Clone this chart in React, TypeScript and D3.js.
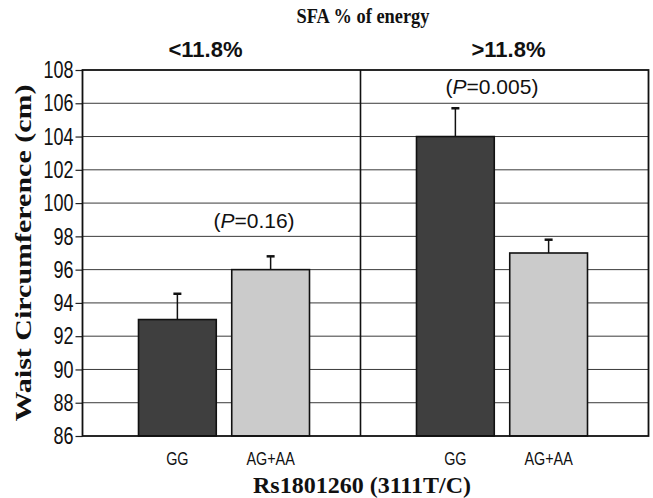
import React, { useEffect, useRef } from "react";
import * as d3 from "d3";

// data
const groups = ["<11.8%", ">11.8%"];
const genotypes = ["GG", "AG+AA"];
const means = [
  [93, 96],
  [104, 97],
];
const upperErr = [
  [94.55, 96.8],
  [105.7, 97.8],
];
const pLabels = ["0.16", "0.005"];
const pValueY = [98.5, 106.55];
const yTicks = [86, 88, 90, 92, 94, 96, 98, 100, 102, 104, 106, 108];

const App = () => {
  const svgRef = useRef<SVGSVGElement>(null);

  useEffect(() => {
    const width = 653;
    const height = 498;
    const margin = { top: 70, right: 4.5, bottom: 62, left: 82.5 };
    const panelW = 278;

    const svg = d3.select(svgRef.current).attr("width", width).attr("height", height);
    svg.selectAll("*").remove();

    const y = d3
      .scaleLinear()
      .domain([86, 108])
      .range([height - margin.bottom, margin.top]);

    const panelX = d3
      .scaleOrdinal<string, number>()
      .domain(groups)
      .range([margin.left, margin.left + panelW]);

    const x = d3.scaleBand().domain(genotypes).range([56, 227]).paddingInner(0.166);

    const right = width - margin.right;
    const sans = "'Liberation Sans', Arial, sans-serif";
    const serif = "'Liberation Serif', 'Times New Roman', serif";

    // gridlines
    svg
      .append("g")
      .selectAll("line")
      .data(yTicks.slice(1, -1))
      .join("line")
      .attr("x1", margin.left)
      .attr("x2", right)
      .attr("y1", (d) => y(d))
      .attr("y2", (d) => y(d))
      .attr("stroke", "#3a3a3a")
      .attr("stroke-width", 1);

    // y axis (narrow, tall digits)
    const yAxis = svg
      .append("g")
      .attr("transform", `translate(${margin.left},0)`)
      .call(d3.axisLeft(y).tickValues(yTicks).tickSize(7).tickPadding(3));
    yAxis.select(".domain").remove();
    yAxis.selectAll(".tick line").attr("stroke", "#222").attr("stroke-width", 1.2);
    yAxis
      .selectAll(".tick text")
      .attr("x", 0)
      .attr("transform", "translate(-9,0) scale(0.75,1)")
      .attr("font-family", sans)
      .attr("font-size", 24)
      .attr("fill", "#111");

    // bars + error bars
    groups.forEach((g, gi) => {
      const px = panelX(g);
      const panel = svg.append("g").attr("transform", `translate(${px},0)`);

      genotypes.forEach((gt, ti) => {
        const cx = x(gt)! + x.bandwidth() / 2;
        panel
          .append("line")
          .attr("x1", cx)
          .attr("x2", cx)
          .attr("y1", y(means[gi][ti]))
          .attr("y2", y(upperErr[gi][ti]))
          .attr("stroke", "#111")
          .attr("stroke-width", 1.5);
        panel
          .append("line")
          .attr("x1", cx - 4)
          .attr("x2", cx + 4)
          .attr("y1", y(upperErr[gi][ti]))
          .attr("y2", y(upperErr[gi][ti]))
          .attr("stroke", "#111")
          .attr("stroke-width", 2.5);
        panel
          .append("rect")
          .attr("x", x(gt)!)
          .attr("width", x.bandwidth())
          .attr("y", y(means[gi][ti]))
          .attr("height", y(86) - y(means[gi][ti]))
          .attr("fill", ti === 0 ? "#3f3f3f" : "#cbcbcb")
          .attr("stroke", "#111")
          .attr("stroke-width", 1.6);

        // category label
        panel
          .append("text")
          .attr("transform", `translate(${cx},${y(86) + 28.5}) scale(0.8,1)`)
          .attr("text-anchor", "middle")
          .attr("font-family", sans)
          .attr("font-size", 18)
          .attr("fill", "#111")
          .text(gt);
      });

      // P value
      const mid = (x(genotypes[0])! + x(genotypes[1])! + x.bandwidth()) / 2;
      const pt = panel
        .append("text")
        .attr("x", mid + (gi === 0 ? 30 : -10))
        .attr("y", y(pValueY[gi]))
        .attr("text-anchor", "middle")
        .attr("font-family", sans)
        .attr("font-size", 21)
        .attr("fill", "#111");
      pt.append("tspan").text("(");
      pt.append("tspan").attr("font-style", "italic").text("P");
      pt.append("tspan").text(`=${pLabels[gi]})`);

      // panel header
      svg
        .append("text")
        .attr("x", px + (gi === 0 ? 123 : 148))
        .attr("y", 57)
        .attr("text-anchor", "middle")
        .attr("font-family", sans)
        .attr("font-weight", "bold")
        .attr("font-size", 22)
        .attr("fill", "#111")
        .text(g);
    });

    // divider and frame
    svg
      .append("line")
      .attr("x1", margin.left + panelW)
      .attr("x2", margin.left + panelW)
      .attr("y1", y(108))
      .attr("y2", y(86))
      .attr("stroke", "#111")
      .attr("stroke-width", 1.6);
    svg
      .append("rect")
      .attr("x", margin.left)
      .attr("y", y(108))
      .attr("width", right - margin.left)
      .attr("height", y(86) - y(108))
      .attr("fill", "none")
      .attr("stroke", "#111")
      .attr("stroke-width", 1.8);

    // titles
    svg
      .append("text")
      .attr("transform", "translate(363,23) scale(0.92,1)")
      .attr("text-anchor", "middle")
      .attr("font-family", serif)
      .attr("font-weight", "bold")
      .attr("font-size", 20)
      .attr("fill", "#111")
      .text("SFA % of energy");
    svg
      .append("text")
      .attr("x", 362)
      .attr("y", 493)
      .attr("text-anchor", "middle")
      .attr("font-family", serif)
      .attr("font-weight", "bold")
      .attr("font-size", 24)
      .attr("fill", "#111")
      .text("Rs1801260 (3111T/C)");
    svg
      .append("text")
      .attr("transform", `translate(31,${(y(86) + y(108)) / 2}) rotate(-90) scale(1.25,1)`)
      .attr("text-anchor", "middle")
      .attr("font-family", serif)
      .attr("font-weight", "bold")
      .attr("font-size", 24)
      .attr("fill", "#111")
      .text("Waist Circumference (cm)");
  }, []);

  return <svg ref={svgRef} style={{ position: "absolute", left: 0, top: 0 }}></svg>;
};

export default App;
